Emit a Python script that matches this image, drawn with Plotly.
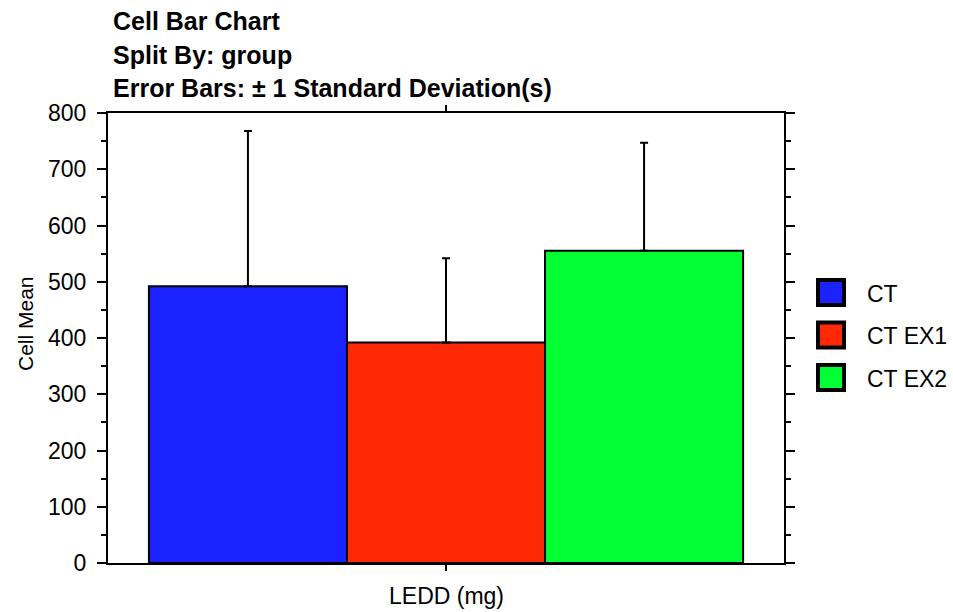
import plotly.graph_objects as go

groups = ["CT", "CT EX1", "CT EX2"]
means = [492, 392, 555]
sds = [276, 150, 192]
colors = ["#1a22ff", "#ff2a05", "#00ff33"]
category = ["LEDD (mg)"]
y_title = "Cell Mean"
title_lines = ["Cell Bar Chart", "Split By: group", "Error Bars: ± 1 Standard Deviation(s)"]
y_ticks = [0, 100, 200, 300, 400, 500, 600, 700, 800]

W, H = 953, 612
L, R, T, B = 108, 169, 113, 49
pw, ph = W - L - R, H - T - B

def px_x(p):
    return (p - L) / pw

def px_y(p):
    return (H - B - p) / ph

fig = go.Figure()
for g, m, s, c in zip(groups, means, sds, colors):
    fig.add_trace(go.Bar(
        name=g, x=[0], y=[m],
        marker=dict(color=c, line=dict(color="black", width=2)),
        error_y=dict(type="data", symmetric=False, array=[s], arrayminus=[0],
                     color="black", thickness=2, width=4),
        showlegend=False,
    ))

font = "Liberation Sans, Arial, sans-serif"
ann = []
for i, line in enumerate(title_lines):
    ann.append(dict(text="<b>%s</b>" % line, x=px_x(111), y=px_y(21 + i * 33.5),
                    xref="paper", yref="paper", xanchor="left", yanchor="middle",
                    showarrow=False, font=dict(family=font, size=25, color="black")))

ann.append(dict(text=category[0], x=px_x(446.5), y=px_y(596), xref="paper", yref="paper",
                xanchor="center", yanchor="middle", showarrow=False,
                font=dict(family=font, size=23, color="black")))
ann.append(dict(text=y_title, x=px_x(25), y=px_y(324), xref="paper", yref="paper",
                xanchor="center", yanchor="middle", showarrow=False, textangle=-90,
                font=dict(family=font, size=21, color="black")))

shapes = []
for i, (g, c) in enumerate(zip(groups, colors)):
    cy = 292.5 + i * 42.5
    shapes.append(dict(type="rect", xref="paper", yref="paper",
                       x0=px_x(818), x1=px_x(844), y0=px_y(cy - 12.5), y1=px_y(cy + 12.5),
                       fillcolor=c, line=dict(color="black", width=4)))
    ann.append(dict(text=g, x=px_x(865), y=px_y(cy + 1), xref="paper", yref="paper",
                    xanchor="left", yanchor="middle", showarrow=False,
                    font=dict(family=font, size=23, color="black")))

fig.update_layout(
    width=W, height=H, margin=dict(l=L, r=R, t=T, b=B),
    plot_bgcolor="white", paper_bgcolor="white",
    barmode="group", bargap=0.121, bargroupgap=0,
    annotations=ann, shapes=shapes,
    font=dict(family=font, size=23, color="black"),
    xaxis=dict(range=[-0.5, 0.5], tickvals=[0], showticklabels=False,
               ticks="outside", ticklen=6, tickwidth=2, tickcolor="black",
               showline=True, linewidth=2, linecolor="black", mirror="ticks",
               showgrid=False, zeroline=False),
    yaxis=dict(range=[0, 800], tickvals=y_ticks, ticks="outside", ticklen=9,
               tickwidth=2, tickcolor="black", ticklabelstandoff=6,
               minor=dict(dtick=50, ticks="outside", ticklen=5, tickwidth=2, tickcolor="black"),
               showline=True, linewidth=2, linecolor="black", mirror="ticks",
               showgrid=False, zeroline=False,
               tickfont=dict(family=font, size=23)),
)

fig.write_html("out.html")
